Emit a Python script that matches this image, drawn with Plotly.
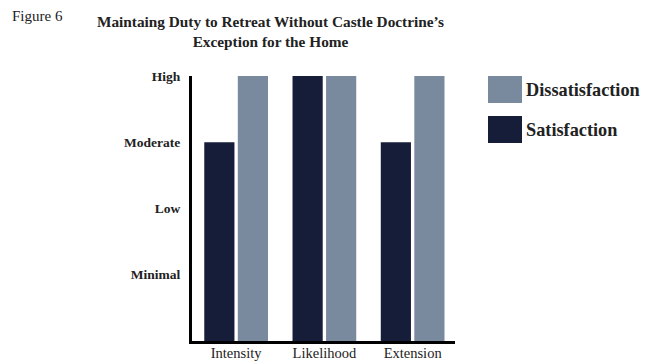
import plotly.graph_objects as go

categories = ["Intensity", "Likelihood", "Extension"]
satisfaction = [3, 4, 3]
dissatisfaction = [4, 4, 4]
level_vals = [1, 2, 3, 4]
level_text = ["Minimal", "Low", "Moderate", "High"]

SAT_COLOR = "#161d38"
DIS_COLOR = "#7a8a9e"
SERIF = "Liberation Serif, Times New Roman, serif"

fig = go.Figure()
fig.add_trace(go.Bar(x=categories, y=satisfaction, name="Satisfaction",
                     marker=dict(color=SAT_COLOR, line=dict(width=0))))
fig.add_trace(go.Bar(x=categories, y=dissatisfaction, name="Dissatisfaction",
                     marker=dict(color=DIS_COLOR, line=dict(width=0))))

fig.update_layout(
    width=645, height=362,
    margin=dict(l=192, r=190, t=76, b=21),
    paper_bgcolor="white", plot_bgcolor="white",
    barmode="group", bargap=0.24, bargroupgap=0.1,
    showlegend=False,
    font=dict(family=SERIF, color="#222222"),
    xaxis=dict(range=[-0.5, 2.48], showline=True, linecolor="black", linewidth=3,
               showgrid=False, zeroline=False, ticks="", automargin=False,
               ticklabelstandoff=-3,
               tickfont=dict(family=SERIF, size=14.5, color="#222222")),
    yaxis=dict(range=[0, 4], showline=True, linecolor="black", linewidth=3,
               showgrid=False, zeroline=False, ticks="", automargin=False,
               tickvals=level_vals, ticktext=level_text, ticklabelstandoff=6,
               tickfont=dict(family=SERIF, size=13.5, color="#222222", weight="bold")),
)

# Title and figure label
fig.add_annotation(text="<b>Maintaing Duty to Retreat Without Castle Doctrine’s<br>Exception for the Home</b>",
                   xref="paper", yref="paper", x=(270 - 192) / 263, y=1 + (76 - 31) / 265,
                   xanchor="center", yanchor="middle", showarrow=False,
                   font=dict(family=SERIF, size=15.3, color="#222222"), align="center")
fig.add_annotation(text="Figure 6", xref="paper", yref="paper",
                   x=(10 - 192) / 263, y=1 + (76 - 16) / 265, xanchor="left", yanchor="middle",
                   showarrow=False, font=dict(family=SERIF, size=15, color="#222222"))

# Legend with large swatches
def px_to_paper_x(px):
    return (px - 192) / 263

def px_to_paper_y(py):
    return (341 - py) / 265

legend_items = [("Dissatisfaction", DIS_COLOR, 76, 103), ("Satisfaction", SAT_COLOR, 116, 143)]
for name, color, y0, y1 in legend_items:
    fig.add_shape(type="rect", xref="paper", yref="paper",
                  x0=px_to_paper_x(488), x1=px_to_paper_x(522),
                  y0=px_to_paper_y(y1), y1=px_to_paper_y(y0),
                  fillcolor=color, line=dict(width=0))
    fig.add_annotation(text=f"<b>{name}</b>", xref="paper", yref="paper",
                       x=px_to_paper_x(524), y=px_to_paper_y((y0 + y1) / 2),
                       xanchor="left", yanchor="middle", showarrow=False,
                       font=dict(family=SERIF, size=18.3, color="#222222"))

fig.write_html("out.html")
